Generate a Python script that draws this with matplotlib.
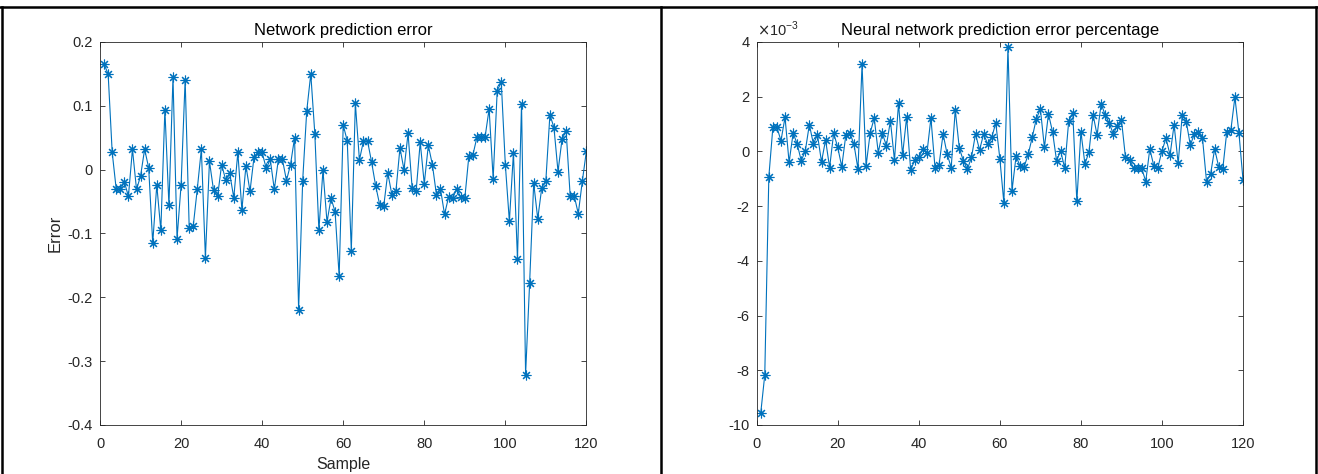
import numpy as np
import matplotlib
matplotlib.use("Agg")
from matplotlib import pyplot as plt
from matplotlib.ticker import FuncFormatter
from matplotlib.lines import Line2D

plt.rcParams['font.family'] = ['Liberation Sans', 'DejaVu Sans']
plt.rcParams['axes.unicode_minus'] = False

# network prediction error, samples 1..120
error = [
    0.165, 0.150, 0.027, -0.031, -0.031, -0.019, -0.042, 0.032, -0.031, -0.010,
    0.032, 0.003, -0.115, -0.024, -0.095, 0.094, -0.056, 0.145, -0.108, -0.024,
    0.141, -0.091, -0.088, -0.030, 0.032, -0.138, 0.013, -0.032, -0.042, 0.008,
    -0.016, -0.006, -0.044, 0.027, -0.063, 0.006, -0.034, 0.020, 0.027, 0.027,
    0.002, 0.016, -0.031, 0.016, 0.016, -0.017, 0.008, 0.050, -0.220, -0.017,
    0.092, 0.150, 0.056, -0.095, -0.001, -0.082, -0.045, -0.066, -0.167, 0.070,
    0.045, -0.127, 0.104, 0.015, 0.045, 0.045, 0.012, -0.025, -0.055, -0.057,
    -0.005, -0.039, -0.034, 0.034, 0.000, 0.057, -0.028, -0.033, 0.043, -0.022,
    0.038, 0.008, -0.039, -0.030, -0.070, -0.043, -0.045, -0.030, -0.043, -0.045,
    0.021, 0.023, 0.051, 0.051, 0.051, 0.095, -0.014, 0.124, 0.137, 0.008,
    -0.081, 0.026, -0.140, 0.103, -0.321, -0.177, -0.021, -0.077, -0.028, -0.017,
    0.086, 0.066, -0.003, 0.048, 0.061, -0.041, -0.041, -0.069, -0.018, 0.029,
]

# error percentage, in units of 1e-3
error_pct_e3 = [
    -9.57, -8.17, -0.93, 0.88, 0.88, 0.39, 1.25, -0.40, 0.67, 0.27,
    -0.34, 0.02, 0.98, 0.27, 0.61, -0.38, 0.42, -0.59, 0.67, 0.15,
    -0.56, 0.60, 0.67, 0.27, -0.65, 3.18, -0.53, 0.67, 1.22, -0.04,
    0.67, 0.21, 1.12, -0.32, 1.76, -0.13, 1.25, -0.68, -0.32, -0.22,
    0.09, -0.07, 1.22, -0.59, -0.49, 0.64, -0.10, -0.59, 1.52, 0.12,
    -0.34, -0.65, -0.22, 0.64, 0.05, 0.64, 0.27, 0.51, 1.04, -0.26,
    -1.89, 3.81, -1.44, -0.18, -0.53, -0.56, -0.11, 0.52, 1.19, 1.55,
    0.15, 1.37, 0.72, -0.34, 0.02, -0.61, 1.12, 1.39, -1.83, 0.72,
    -0.46, -0.01, 1.34, 0.60, 1.74, 1.33, 1.03, 0.64, 0.94, 1.16,
    -0.22, -0.31, -0.61, -0.61, -0.61, -1.10, 0.09, -0.53, -0.59, 0.02,
    0.48, -0.13, 0.98, -0.44, 1.33, 1.09, 0.23, 0.64, 0.70, 0.49,
    -1.10, -0.83, 0.09, -0.56, -0.65, 0.72, 0.78, 1.98, 0.67, -1.04,
]

sample = np.arange(1, len(error) + 1)
xticks = [0, 20, 40, 60, 80, 100, 120]
yticks_err = [-0.4, -0.3, -0.2, -0.1, 0, 0.1, 0.2]
yticks_pct = [-10, -8, -6, -4, -2, 0, 2, 4]

blue = '#0072BD'
grey = '#262626'
asterisk = (8, 2, 0)  # matlab style '*': plus and cross together

fig = plt.figure(figsize=(13.18, 4.74), dpi=100)


def style(ax):
    ax.set_xlim(0, 120)
    ax.set_xticks(xticks)
    ax.tick_params(direction='in', top=True, right=True, length=3.5,
                   width=0.6, colors=grey, labelsize=10.5)
    ax.tick_params(axis='x', pad=9)
    ax.tick_params(axis='y', pad=5)
    for s in ax.spines.values():
        s.set_color(grey)
        s.set_linewidth(0.6)
    ax.yaxis.set_major_formatter(FuncFormatter(lambda v, p: '%g' % round(v, 6)))


ax1 = fig.add_axes([0.0759, 0.1034, 0.369, 0.808])
ax1.plot(sample, error, color=blue, lw=0.8, marker=asterisk, ms=7, mew=0.8)
style(ax1)
ax1.set_ylim(-0.4, 0.2)
ax1.set_yticks(yticks_err)
ax1.set_title('Network prediction error', fontsize=12, color='black', pad=5)
ax1.set_xlabel('Sample', fontsize=11.5, color=grey, labelpad=4)
ax1.set_ylabel('Error', fontsize=12, color=grey, labelpad=4)

ax2 = fig.add_axes([0.5741, 0.1034, 0.369, 0.808])
ax2.plot(sample, error_pct_e3, color=blue, lw=0.8, marker=asterisk, ms=7, mew=0.8)
style(ax2)
ax2.set_ylim(-10, 4)
ax2.set_yticks(yticks_pct)
ax2.set_title('Neural network prediction error percentage', fontsize=12,
              color='black', pad=5)
ax2.text(0.0, 1.008, r'$\times$10$^{\mathregular{-3}}$', transform=ax2.transAxes,
         fontsize=10.5, color=grey, ha='left', va='bottom')

# table cell borders around the two panels
W, H = 1318.0, 474.0
lw = 1.8
for x in (2, 661, 1316):
    fig.add_artist(Line2D([x / W, x / W], [0, 1 - 7 / H], color='black', lw=lw))
fig.add_artist(Line2D([0, 1], [1 - 7 / H, 1 - 7 / H], color='black', lw=lw))

fig.savefig('out.png', dpi=100)
plt.close(fig)
